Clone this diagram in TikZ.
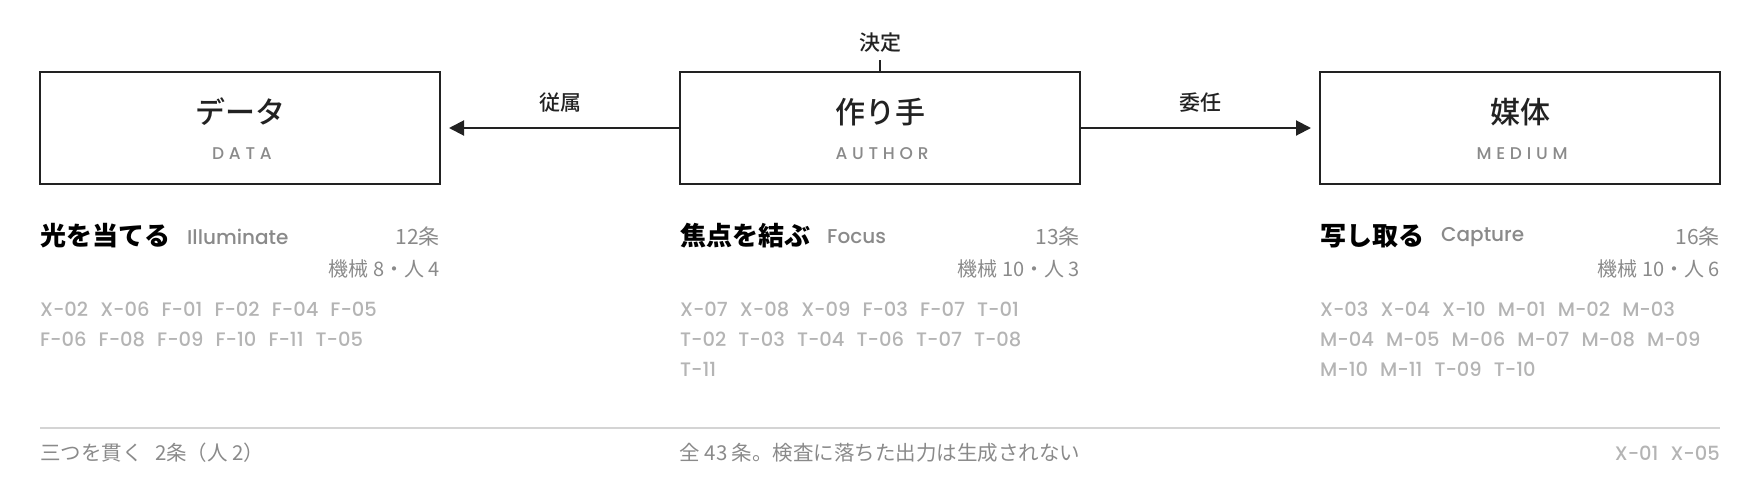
\documentclass[tikz,border=0pt]{standalone}
\usepackage{fontspec}
\setmainfont{Noto Sans CJK JP}
\newfontfamily\jpmed{Noto Sans CJK JP Medium}
\newfontfamily\lat{Poppins Medium}
\newfontfamily\latsp[LetterSpace=28]{Poppins Medium}
\usetikzlibrary{arrows.meta}
\definecolor{ink}{HTML}{222222}
\definecolor{midgray}{HTML}{8A8A8A}
\definecolor{codegray}{HTML}{B4B4B4}
\definecolor{rulegray}{HTML}{D4D4D4}
\tikzset{
  box/.style={draw=ink, line width=2.2pt, minimum width=400pt, minimum height=112pt, inner sep=0pt},
  title/.style={text=ink, font=\jpmed\fontsize{30}{32}\selectfont, inner sep=0pt},
  sub/.style={text=midgray, font=\latsp\fontsize{17}{19}\selectfont, inner sep=0pt},
  edgelbl/.style={text=ink, font=\jpmed\fontsize{21}{24}\selectfont, inner sep=0pt},
  arr/.style={draw=ink, line width=2pt, -{Triangle[length=15pt,width=15pt]}},
  head/.style={text=black, font=\bfseries\fontsize{26}{28}\selectfont, inner sep=0pt, anchor=west},
  headlat/.style={text=midgray, font=\lat\fontsize{20}{22}\selectfont, inner sep=0pt, anchor=west},
  count/.style={text=midgray, font=\fontsize{21}{23}\selectfont, inner sep=0pt, anchor=east},
  split/.style={text=midgray, font=\fontsize{20}{22}\selectfont, inner sep=0pt, anchor=east},
  codes/.style={text=codegray, font=\lat\fontsize{19.5}{21}\selectfont, inner sep=0pt, anchor=west},
  foot/.style={text=midgray, font=\fontsize{20.5}{22}\selectfont, inner sep=0pt},
}
\newcommand{\cs}{\hspace{0.62em}}
\begin{document}
\begin{tikzpicture}[x=1pt,y=-1pt]
\useasboundingbox (0,0) rectangle (1760,488);
% boxes
\node[box] (data) at (240,128) {};
\node[box] (author) at (880,128) {};
\node[box] (medium) at (1520,128) {};
\node[title] (dataT) at (240,112) {データ};
\node[sub] (dataS) at (242,154) {DATA};
\node[title] (authorT) at (880,112) {作り手};
\node[sub] (authorS) at (882,154) {AUTHOR};
\node[title] (mediumT) at (1520,112) {媒体};
\node[sub] (mediumS) at (1522,154) {MEDIUM};
% connectors
\coordinate (dataIn) at (449,128);
\coordinate (mediumIn) at (1311,128);
\draw[arr] (author.west) -- (dataIn);
\draw[arr] (author.east) -- (mediumIn);
\node[edgelbl] (l1) at (560,103) {従属};
\node[edgelbl] (l2) at (1200,103) {委任};
\coordinate (tick) at (880,60);
\draw[draw=ink, line width=2pt] (author.north) -- (tick);
\node[edgelbl] (l3) at (880,43) {決定};
% column 1
\node[head] (h1) at (40,236) {光を当てる};
\node[headlat] (h1l) at (187,237) {Illuminate};
\node[count] (c1) at (440,236) {12条};
\node[split] (s1) at (440,269) {機械 8・人 4};
\node[codes] (a1) at (40,309) {X-02\cs X-06\cs F-01\cs F-02\cs F-04\cs F-05};
\node[codes] (a2) at (40,339) {F-06\cs F-08\cs F-09\cs F-10\cs F-11\cs T-05};
% column 2
\node[head] (h2) at (680,236) {焦点を結ぶ};
\node[headlat] (h2l) at (827,237) {Focus};
\node[count] (c2) at (1080,236) {13条};
\node[split] (s2) at (1080,269) {機械 10・人 3};
\node[codes] (b1) at (680,309) {X-07\cs X-08\cs X-09\cs F-03\cs F-07\cs T-01};
\node[codes] (b2) at (680,339) {T-02\cs T-03\cs T-04\cs T-06\cs T-07\cs T-08};
\node[codes] (b3) at (680,369) {T-11};
% column 3
\node[head] (h3) at (1320,236) {写し取る};
\node[headlat] (h3l) at (1441,237) {Capture};
\node[count] (c3) at (1720,236) {16条};
\node[split] (s3) at (1720,269) {機械 10・人 6};
\node[codes] (m1) at (1320,309) {X-03\cs X-04\cs X-10\cs M-01\cs M-02\cs M-03};
\node[codes] (m2) at (1320,339) {M-04\cs M-05\cs M-06\cs M-07\cs M-08\cs M-09};
\node[codes] (m3) at (1320,369) {M-10\cs M-11\cs T-09\cs T-10};
% footer
\coordinate (ruleL) at (40,428);
\coordinate (ruleR) at (1720,428);
\draw[draw=rulegray, line width=2pt] (ruleL) -- (ruleR);
\node[foot, anchor=west] (f1) at (40,453) {三つを貫く\hspace{0.6em}2条（人 2）};
\node[foot] (f2) at (880,453) {全 43 条。検査に落ちた出力は生成されない};
\node[codes, anchor=east] (f3) at (1720,453) {X-01\cs X-05};
\end{tikzpicture}
\end{document}
